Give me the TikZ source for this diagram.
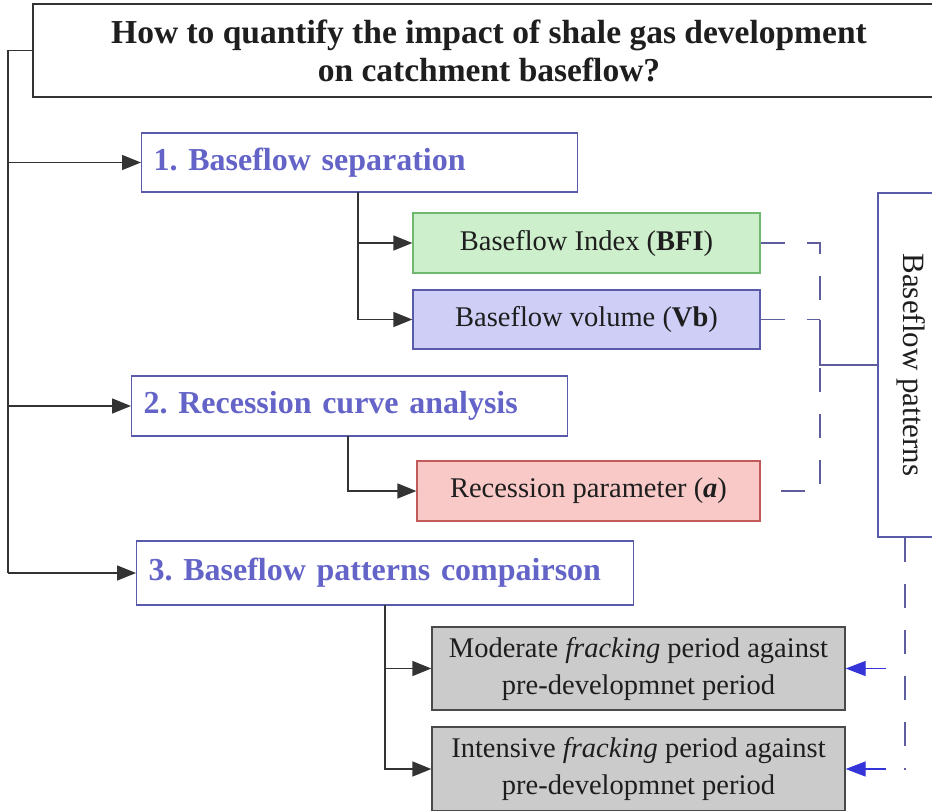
\documentclass[tikz,border=0pt]{standalone}
\usepackage{fontspec}
\setmainfont{Liberation Serif}
\usetikzlibrary{arrows.meta,calc,positioning}
\definecolor{flowInk}{HTML}{1E1E1E}
\definecolor{flowLine}{HTML}{333333}
\definecolor{stepBlue}{HTML}{6464C8}
\definecolor{stepEdge}{HTML}{5A5AAA}
\definecolor{bfiFill}{HTML}{CDEFCB}
\definecolor{bfiEdge}{HTML}{70B870}
\definecolor{vbFill}{HTML}{CECEF6}
\definecolor{vbEdge}{HTML}{5A5AAA}
\definecolor{recFill}{HTML}{F8C9C6}
\definecolor{recEdge}{HTML}{C25A5A}
\definecolor{cmpFill}{HTML}{CBCBCB}
\definecolor{cmpEdge}{HTML}{4A4A4A}
\definecolor{linkBlue}{HTML}{3434D8}
\definecolor{guideBlue}{HTML}{5E5E9E}
\frenchspacing

\begin{document}
\begin{tikzpicture}[x=1pt,y=-1pt,text=flowInk,
  font=\fontsize{28.5}{37}\selectfont,
  titlebox/.style={draw=flowLine,line width=1.4pt,fill=white,align=center,
    font=\bfseries\fontsize{33.5}{38}\selectfont},
  stepbox/.style={draw=stepEdge,line width=1.3pt,fill=white,text=stepBlue,anchor=west,
    inner xsep=12pt,align=left,font=\bfseries\fontsize{32}{36}\selectfont},
  subbox/.style={line width=1.3pt,align=center,inner sep=0pt},
  patternbox/.style={draw=stepEdge,line width=1.3pt,fill=white,rotate=-90,
    minimum width=344pt,minimum height=66pt,inner sep=0pt,font=\fontsize{31}{36}\selectfont},
  link/.style={draw=flowLine,line width=1.5pt},
  arrowlink/.style={link,-{Triangle[length=19pt,width=15pt]}},
  dashlink/.style={draw=guideBlue,line width=1.3pt,dash pattern=on 24pt off 22pt},
  bluearrow/.style={draw=linkBlue,line width=1.3pt,-{Triangle[length=20pt,width=15pt]}}]
  \clip (0,0) rectangle (932,811);
  \useasboundingbox (0,0) rectangle (932,811);
  \fill[white] (0,0) rectangle (932,811);

  % question and the three steps
  \node[titlebox,minimum width=912pt,minimum height=93pt] (question) at (489,50.5)
    {How to quantify the impact of shale gas development\\on catchment baseflow?};
  \node[stepbox,text width=412pt,minimum height=59pt] (sepstep) at (141,162.5)
    {1. Baseflow separation};
  \node[stepbox,text width=412pt,minimum height=60pt] (recstep) at (131,406)
    {2. Recession curve analysis};
  \node[stepbox,text width=473pt,minimum height=64pt] (cmpstep) at (136,573)
    {3. Baseflow patterns compairson};

  % outputs of each step
  \node[subbox,draw=bfiEdge,fill=bfiFill,minimum width=347pt,minimum height=60pt] (bfi)
    at (586.5,243) {Baseflow Index (\textbf{BFI})};
  \node[subbox,draw=vbEdge,fill=vbFill,minimum width=347pt,minimum height=59pt] (vb)
    at (586.5,319.5) {Baseflow volume (\textbf{Vb})};
  \node[subbox,draw=recEdge,fill=recFill,minimum width=343pt,minimum height=60pt] (recpar)
    at (588.5,491) {Recession parameter (\textbf{\textit{a}})};
  \node[subbox,draw=cmpEdge,fill=cmpFill,minimum width=413pt,minimum height=83pt] (moderate)
    at (638.5,668.5) {Moderate \textit{fracking} period against\\pre-developmnet period};
  \node[subbox,draw=cmpEdge,fill=cmpFill,minimum width=413pt,minimum height=84pt] (intensive)
    at (638.5,769) {Intensive \textit{fracking} period against\\pre-developmnet period};
  \node[patternbox] (patterns) at (911,365) {Baseflow patterns};

  % main spine
  \coordinate (spine) at (8,50.5);
  \draw[link] (question.west) -- (spine) -- (spine |- cmpstep.west);
  \foreach \s in {sepstep,recstep,cmpstep}
    {\draw[arrowlink] (spine |- \s.west) -- (\s.west);}

  % branches below the steps
  \coordinate (sepdrop) at (358,192);
  \coordinate (recdrop) at (348,436);
  \coordinate (cmpdrop) at (385,605);
  \draw[arrowlink] (sepdrop) |- (bfi.west);
  \draw[arrowlink] (sepdrop) |- (vb.west);
  \draw[arrowlink] (recdrop) |- (recpar.west);
  \draw[arrowlink] (cmpdrop) |- (moderate.west);
  \draw[arrowlink] (cmpdrop) |- (intensive.west);

  % dashed bracket into the patterns box
  \coordinate (bracket) at (820,243);
  \draw[dashlink] (bfi.east) -- (bracket) -- (bracket |- recpar.east) -- (recpar.east);
  \draw[dashlink] (vb.east) -- (bracket |- vb.east);
  \draw[draw=guideBlue,line width=1.3pt] (bracket |- vb.east) -- (bracket |- patterns.south)
    -- (patterns.south);

  % patterns fed back to the comparisons
  \coordinate (feedend) at (905,770);
  \draw[dashlink] (feedend |- patterns.east) -- (feedend);
  \draw[bluearrow] (moderate.east -| 886,0) -- (moderate.east);
  \draw[bluearrow] (intensive.east -| 886,0) -- (intensive.east);
\end{tikzpicture}
\end{document}
